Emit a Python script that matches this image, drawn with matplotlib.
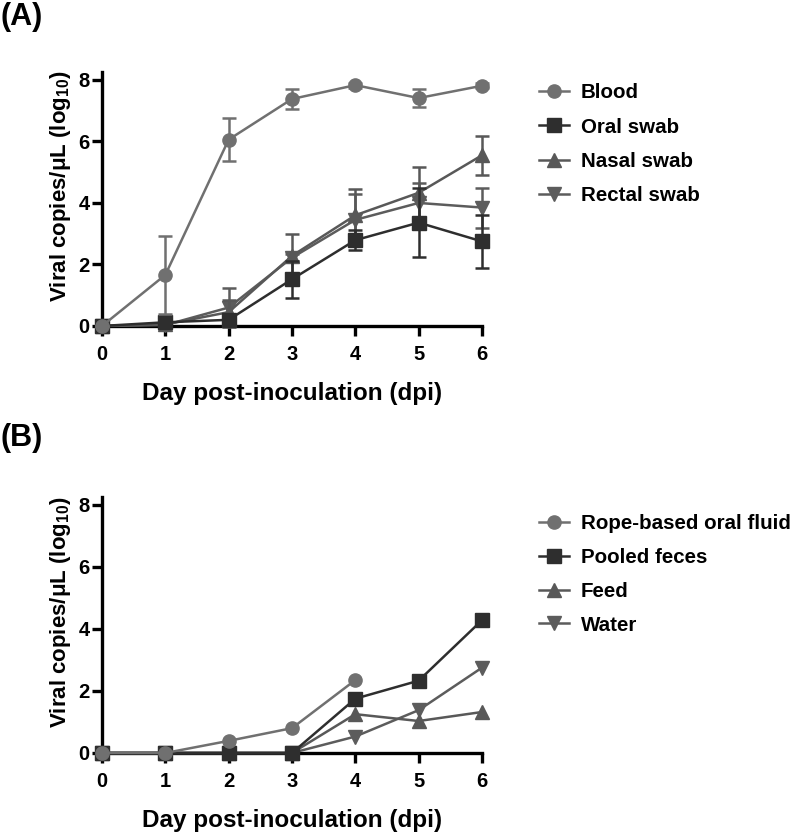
import matplotlib.pyplot as plt

plt.rcParams['font.family'] = ['Liberation Sans', 'DejaVu Sans']
plt.rcParams['font.weight'] = 'bold'
plt.rcParams['mathtext.fontset'] = 'custom'
plt.rcParams['mathtext.bf'] = 'Liberation Sans:bold'
plt.rcParams['mathtext.rm'] = 'Liberation Sans:bold'
plt.rcParams['mathtext.default'] = 'bf'

days = [0, 1, 2, 3, 4, 5, 6]

# Panel A: mean and SD per sample type
blood = [0, 1.66, 6.06, 7.38, 7.83, 7.41, 7.81]
blood_sd = [0, 1.28, 0.70, 0.32, 0.08, 0.28, 0.08]
oral = [0, 0.12, 0.20, 1.52, 2.79, 3.36, 2.75]
oral_sd = [0, 0, 0.10, 0.60, 0.33, 1.13, 0.86]
nasal = [0, 0.05, 0.45, 2.28, 3.60, 4.33, 5.55]
nasal_sd = [0, 0, 0.40, 0.72, 0.85, 0.84, 0.63]
rectal = [0, 0.03, 0.60, 2.22, 3.45, 4.00, 3.85]
rectal_sd = [0, 0, 0.63, 0.12, 0.83, 0.66, 0.65]

# Panel B: environmental samples
rope_days = [0, 1, 2, 3, 4]
rope = [0, 0, 0.39, 0.80, 2.35]
pooled = [0, 0, 0, 0, 1.75, 2.33, 4.28]
feed = [0, 0, 0, 0, 1.25, 1.03, 1.32]
water = [0, 0, 0, 0, 0.53, 1.38, 2.75]

labels_a = ['Blood', 'Oral swab', 'Nasal swab', 'Rectal swab']
labels_b = ['Rope-based oral fluid', 'Pooled feces', 'Feed', 'Water']
colors = ['#707070', '#2e2e2e', '#585858', '#5c5c5c']
markers = ['o', 's', '^', 'v']

fig = plt.figure(figsize=(8, 8.32), dpi=100)
ax_a = fig.add_axes([0.1275, 0.6082, 0.475, 0.305])
ax_b = fig.add_axes([0.1275, 0.0950, 0.475, 0.3076])


def style_axes(ax):
    ax.set_xlim(0, 6)
    ax.set_ylim(0, 8.25)
    ax.set_xticks(days)
    ax.set_yticks([0, 2, 4, 6, 8])
    for side in ['top', 'right']:
        ax.spines[side].set_visible(False)
    for side in ['left', 'bottom']:
        ax.spines[side].set_linewidth(2.4)
    ax.tick_params(width=2.4, length=7, labelsize=14.5)
    ax.tick_params(axis='x', pad=7)
    ax.tick_params(axis='y', pad=2)
    for lab in ax.get_xticklabels() + ax.get_yticklabels():
        lab.set_fontweight('bold')
    ax.set_xlabel('Day post-inoculation (dpi)', fontsize=17.5, fontweight='bold', labelpad=13)
    ax.set_ylabel('Viral copies/μL (log$_{10}$)', fontsize=16, fontweight='bold')
    ax.yaxis.set_label_coords(-0.076, 0.55)


series_a = [(blood, blood_sd), (oral, oral_sd), (nasal, nasal_sd), (rectal, rectal_sd)]
handles = [None] * 4
for i in reversed(range(4)):
    vals, sd = series_a[i]
    h = ax_a.errorbar(days, vals, yerr=sd, color=colors[i], marker=markers[i], markersize=9.5,
                      linewidth=1.8, elinewidth=1.8, capsize=5, capthick=1.8,
                      clip_on=False, zorder=3 + (4 - i))
    for art in h.lines[1] + h.lines[2]:
        art.set_clip_on(False)
    handles[i] = h.lines[0]
style_axes(ax_a)
ax_a.legend(handles, labels_a, loc='upper left', bbox_to_anchor=(1.101, 1.03), frameon=False,
            handlelength=1.45, labelspacing=0.75, handletextpad=0.6,
            prop={'weight': 'bold', 'size': 14.8})

series_b = [(rope_days, rope), (days, pooled), (days, feed), (days, water)]
handles = [None] * 4
for i in reversed(range(4)):
    x, vals = series_b[i]
    (ln,) = ax_b.plot(x, vals, color=colors[i], marker=markers[i], markersize=9.5,
                      linewidth=1.8, clip_on=False, zorder=3 + (4 - i))
    handles[i] = ln
style_axes(ax_b)
ax_b.legend(handles, labels_b, loc='upper left', bbox_to_anchor=(1.101, 1.005), frameon=False,
            handlelength=1.45, labelspacing=0.72, handletextpad=0.6,
            prop={'weight': 'bold', 'size': 14.8})

fig.text(0.0, 0.997, '(A)', fontsize=22, fontweight='bold', va='top', ha='left')
fig.text(0.0, 0.492, '(B)', fontsize=22, fontweight='bold', va='top', ha='left')

fig.savefig('out.png', dpi=100)
